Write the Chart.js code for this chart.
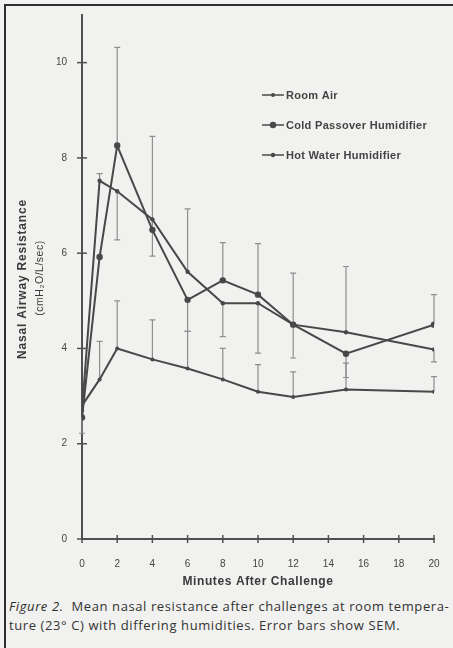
<!DOCTYPE html>
<html>
<head>
<meta charset="utf-8">
<script src="https://cdn.jsdelivr.net/npm/chart.js@4/dist/chart.umd.min.js"></script>
<style>
  html, body { margin: 0; padding: 0; background: #f0f0ee; }
  #page { position: relative; width: 453px; height: 648px; overflow: hidden; background: #f1f1ef; }
  #frameLeft { position: absolute; left: 4px; top: 4px; width: 2px; height: 644px; background: #2e2e2e; }
  #frameTop { position: absolute; left: 4px; top: 4px; width: 449px; height: 2px; background: #2e2e2e; }
  #chartBox { position: absolute; left: 0; top: 0; width: 453px; height: 595px; }
  #caption { position: absolute; left: 9px; top: 597px; width: 444px; font-family: 'Open Sans', sans-serif;
    font-size: 13px; letter-spacing: 0.6px; line-height: 19px; color: #333; white-space: nowrap; }
  #caption i { color: #2a2a2a; }
</style>
</head>
<body>
<div id="page">
  <div id="chartBox"><canvas id="chart"></canvas></div>
  <div id="frameLeft"></div>
  <div id="frameTop"></div>
  <div id="caption"><i>Figure 2.</i>&nbsp; Mean nasal resistance after challenges at room tempera-<br>ture (23° C) with differing humidities. Error bars show SEM.</div>
</div>
<script>
// minutes after challenge
const minutes = [0, 1, 2, 4, 6, 8, 10, 12, 15, 20]
const xTicks = [0, 2, 4, 6, 8, 10, 12, 14, 16, 18, 20]
const yTicks = [0, 2, 4, 6, 8, 10]

const labels = ['Room Air', 'Cold Passover Humidifier', 'Hot Water Humidifier']

// mean nasal resistance (cmH2O/L/sec)
const roomAir = [2.8, 3.35, 4.0, 3.77, 3.58, 3.35, 3.09, 2.98, 3.14, 3.09]
const coldPassover = [2.55, 5.92, 8.26, 6.49, 5.02, 5.43, 5.13, 4.5, 3.89, 4.5]
const hotWater = [2.7, 7.52, 7.3, 6.71, 5.61, 4.95, 4.95, 4.5, 4.34, 3.98]

// SEM, drawn up or down only (0 = no bar)
const roomAirUp = [0, 0.8, 1.0, 0.83, 0.78, 0.65, 0.57, 0.53, 0.55, 0.32]
const roomAirDown = [0, 0, 0, 0, 0, 0, 0, 0, 0, 0]
const coldUp = [0, 0, 2.06, 1.96, 0, 0.79, 1.07, 0, 0, 0.63]
const coldDown = [0.33, 0, 0, 0, 0.66, 0, 0, 0.7, 0.5, 0]
const hotUp = [0, 0.15, 0, 0, 1.32, 0, 0, 1.08, 1.38, 0]
const hotDown = [0, 0, 1.02, 0.77, 0, 0.7, 1.05, 0, 0, 0.26]

const ink = '#484848'
const toPoints = vals => vals.map((v, i) => ({ x: minutes[i], y: v }))

const errorBars = {
  id: 'errorBars',
  beforeDatasetsDraw(chart) {
    const { ctx, scales: { x, y } } = chart
    ctx.save()
    ctx.strokeStyle = '#8e8e8e'
    ctx.lineWidth = 1.2
    chart.data.datasets.forEach(ds => {
      ds.data.forEach((p, i) => {
        const px = x.getPixelForValue(p.x)
        const bars = [p.y + ds.errUp[i], p.y - ds.errDown[i]]
        bars.forEach(end => {
          if (end === p.y) return
          const py = y.getPixelForValue(p.y)
          const ey = y.getPixelForValue(end)
          ctx.beginPath()
          ctx.moveTo(px, py); ctx.lineTo(px, ey)
          ctx.moveTo(px - 3, ey); ctx.lineTo(px + 3, ey)
          ctx.stroke()
        })
      })
    })
    ctx.restore()
  }
}

// crossing tick marks, axis titles and in-plot legend
const decorations = {
  id: 'decorations',
  afterDraw(chart) {
    const { ctx, chartArea: a, scales: { x, y } } = chart
    ctx.save()
    ctx.strokeStyle = '#505050'
    ctx.lineWidth = 1.5
    xTicks.forEach(t => {
      const px = x.getPixelForValue(t)
      ctx.beginPath(); ctx.moveTo(px, a.bottom - 4); ctx.lineTo(px, a.bottom + 4); ctx.stroke()
    })
    yTicks.forEach(t => {
      const py = y.getPixelForValue(t)
      ctx.beginPath(); ctx.moveTo(a.left - 5, py); ctx.lineTo(a.left + 5, py); ctx.stroke()
    })

    ctx.fillStyle = '#3a3a3a'
    ctx.textAlign = 'center'
    ctx.textBaseline = 'middle'
    ctx.letterSpacing = '0.6px'
    ctx.font = 'bold 12px "Liberation Sans", sans-serif'
    ctx.fillText('Minutes After Challenge', (a.left + a.right) / 2, a.bottom + 43)

    ctx.translate(a.left - 59, 279)
    ctx.rotate(-Math.PI / 2)
    ctx.letterSpacing = '0.8px'
    ctx.font = 'bold 12px "Liberation Sans", sans-serif'
    ctx.fillText('Nasal Airway Resistance', 0, 0)
    ctx.letterSpacing = '0.5px'
    ctx.font = '10.5px "Liberation Sans", sans-serif'
    ctx.fillText('(cmH\u2082O/L/sec)', 1, 17)
    ctx.setTransform(1, 0, 0, 1, 0, 0)

    const lx = a.left + 180
    let ly = a.top + 80
    ctx.textAlign = 'left'
    ctx.letterSpacing = '0.3px'
    ctx.font = 'bold 11px "Liberation Sans", sans-serif'
    chart.data.datasets.forEach(ds => {
      ctx.strokeStyle = ink
      ctx.lineWidth = 1.5
      ctx.beginPath(); ctx.moveTo(lx, ly); ctx.lineTo(lx + 22, ly); ctx.stroke()
      ctx.fillStyle = ink
      ctx.beginPath(); ctx.arc(lx + 11, ly, ds.pointRadius, 0, Math.PI * 2); ctx.fill()
      ctx.fillStyle = '#444'
      ctx.fillText(ds.label, lx + 24, ly + 1)
      ly += 30
    })
    ctx.restore()
  }
}

const series = [
  { label: labels[0], data: toPoints(roomAir), errUp: roomAirUp, errDown: roomAirDown, pointRadius: 2 },
  { label: labels[1], data: toPoints(coldPassover), errUp: coldUp, errDown: coldDown, pointRadius: 3.2 },
  { label: labels[2], data: toPoints(hotWater), errUp: hotUp, errDown: hotDown, pointRadius: 2.2 },
]

new Chart(document.getElementById('chart'), {
  type: 'line',
  data: {
    datasets: series.map(s => ({
      ...s,
      borderColor: ink,
      backgroundColor: ink,
      borderWidth: 2,
      pointBorderWidth: 0,
      tension: 0,
      fill: false,
    }))
  },
  options: {
    responsive: true,
    maintainAspectRatio: false,
    animation: false,
    events: [],
    layout: { padding: { top: 15, right: 19, left: 0, bottom: 0 } },
    plugins: { legend: { display: false }, tooltip: { enabled: false } },
    scales: {
      x: {
        type: 'linear',
        min: 0,
        max: 20,
        afterBuildTicks: s => { s.ticks = xTicks.map(v => ({ value: v })) },
        afterFit: s => { s.height = 56 },
        grid: { display: false },
        border: { color: '#505050', width: 2 },
        ticks: { color: '#444', padding: 11, font: { family: 'Liberation Sans', size: 10 } }
      },
      y: {
        min: 0,
        max: 11,
        afterBuildTicks: s => { s.ticks = yTicks.map(v => ({ value: v })) },
        afterFit: s => { s.width = 82 },
        grid: { display: false },
        border: { color: '#505050', width: 2 },
        ticks: { color: '#444', padding: 7, font: { family: 'Liberation Sans', size: 10 } }
      }
    }
  },
  plugins: [errorBars, decorations]
})
</script>
</body>
</html>
